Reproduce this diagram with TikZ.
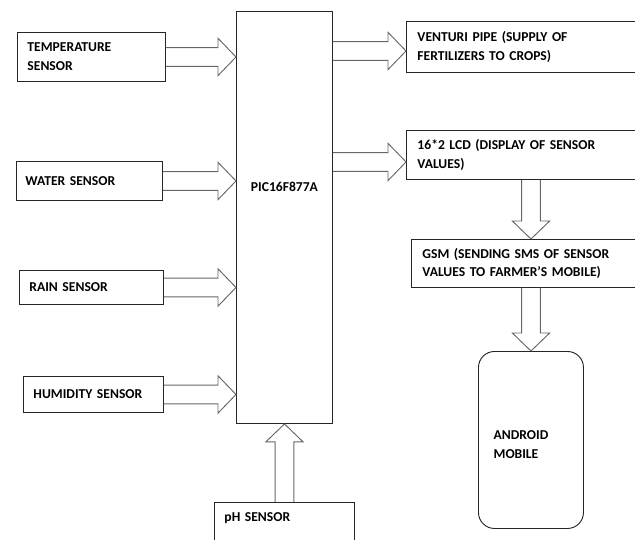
\documentclass[tikz,border=0pt]{standalone}
\usepackage{fontspec}
\setmainfont{Carlito}
\usepackage{tikz}
\usetikzlibrary{calc,positioning}
\tikzstyle{box}=[draw=black!85, line width=.7pt, anchor=north west, align=left, font=\bfseries\fontsize{10.2}{14.2}\selectfont, inner xsep=7.5pt]
\tikzstyle{blockline}=[draw=black!60, line width=.7pt, line join=miter]
\newcommand{\arrowsw}{7pt}
\newcommand{\arrowhw}{14pt}
\newcommand{\arrowhl}{13.5pt}
\newcommand{\blockarrow}[2]{
	\coordinate (ba-s) at (#1);
	\coordinate (ba-t) at (#2);
	\coordinate (ba-b) at ($(ba-t)!\arrowhl!(ba-s)$);
	\draw[blockline] ($(ba-s)!\arrowsw!90:(ba-t)$) -- ($(ba-b)!\arrowsw!90:(ba-t)$) -- ($(ba-b)!\arrowhw!90:(ba-t)$)
		-- (ba-t) -- ($(ba-b)!\arrowhw!-90:(ba-t)$) -- ($(ba-b)!\arrowsw!-90:(ba-t)$) -- ($(ba-s)!\arrowsw!-90:(ba-t)$);
}
\begin{document}
\begin{tikzpicture}[x=.75pt, y=-.75pt]
	\useasboundingbox (0,0) rectangle (635,539);
	\clip (0,0) rectangle (635,539);
%
	\node[box, minimum width=111pt, minimum height=36.75pt, text width=96pt] (temp) at (17,32) {TEMPERATURE\\SENSOR};
	\node[box, minimum width=109.5pt, minimum height=29.25pt, text width=96pt, inner xsep=6.75pt] (water) at (16,161) {WATER SENSOR};
	\node[box, minimum width=108pt, minimum height=25.5pt, text width=93pt] (rain) at (19,270) {RAIN SENSOR};
	\node[box, minimum width=105pt, minimum height=27pt, text width=90pt] (humid) at (23,376) {HUMIDITY SENSOR};
	\node[box, minimum width=105pt, text width=90pt, inner ysep=7.7pt, text depth=30pt] (ph) at (214,502) {pH SENSOR};
%
	\node[box, minimum width=72pt, minimum height=309pt] (pic) at (236,11) {};
	\node[font=\bfseries\fontsize{10.2}{14.2}\selectfont] (picname) at ($(pic.north)!.425!(pic.south)$) {PIC16F877A};
%
	\node[box, minimum width=195pt, minimum height=38.25pt, text width=178.5pt, inner xsep=8.25pt] (venturi) at (406,21) {VENTURI PIPE (SUPPLY OF\\FERTILIZERS TO CROPS)};
	\node[box, minimum width=195pt, minimum height=36.75pt, text width=178.5pt, inner xsep=5.25pt] (lcd) at (406,130) {16*2 LCD (DISPLAY OF SENSOR\\VALUES)};
	\node[box, minimum width=195pt, minimum height=36pt, text width=178.5pt, inner xsep=8.25pt] (gsm) at (411,239) {GSM (SENDING SMS OF SENSOR\\VALUES TO FARMER'S MOBILE)};
	\node[box, rounded corners=12pt, minimum width=78.75pt, minimum height=132.75pt, text width=56pt, text depth=8pt] (mobile) at (478,351) {ANDROID\\MOBILE};
%
	\blockarrow{temp.east}{pic.west |- temp.east}
	\blockarrow{water.east}{pic.west |- water.east}
	\blockarrow{rain.east}{pic.west |- rain.east}
	\blockarrow{humid.east}{pic.west |- humid.east}
	\blockarrow{ph.north}{pic.south}
%
	\coordinate (vtip) at ($(venturi.west)+(0,4)$);
	\coordinate (ltip) at ($(lcd.west)+(0,7)$);
	\blockarrow{pic.east |- vtip}{vtip}
	\blockarrow{pic.east |- ltip}{ltip}
	\blockarrow{lcd.south -| mobile.north}{gsm.north -| mobile.north}
	\blockarrow{gsm.south -| mobile.north}{mobile.north}
\end{tikzpicture}
\end{document}
